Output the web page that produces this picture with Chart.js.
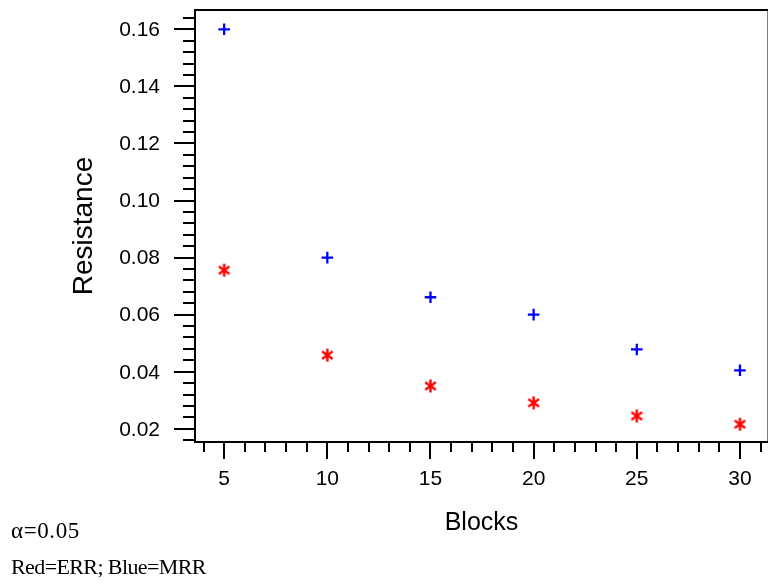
<!DOCTYPE html>
<html><head><meta charset="utf-8">
<script src="https://cdn.jsdelivr.net/npm/chart.js@4/dist/chart.umd.min.js"></script>
<style>
html,body{margin:0;padding:0;background:#fff;}
#wrap{position:relative;width:769px;height:586px;overflow:hidden;}
canvas{position:absolute;left:0;top:0;}
.note{position:absolute;left:11px;font-family:"Liberation Serif","Times New Roman",serif;font-size:22px;line-height:22px;color:#000;letter-spacing:-0.6px;white-space:nowrap;}
.alpha{font-size:23px;letter-spacing:0.6px;}
</style></head>
<body>
<div id="wrap"><canvas id="c" width="769" height="586"></canvas>
<div class="note alpha" style="top:520px">α=0.05</div>
<div class="note" style="top:556px">Red=ERR; Blue=MRR</div>
</div>
<script>
// ---- data ----
const blocks = [5, 10, 15, 20, 25, 30];
const errResistance = [0.0756, 0.0458, 0.0350, 0.0291, 0.0245, 0.0216];
const mrrResistance = [0.1600, 0.0800, 0.0661, 0.0600, 0.0478, 0.0405];
const xTickLabels = [5, 10, 15, 20, 25, 30];
const yTickLabels = [0.02, 0.04, 0.06, 0.08, 0.10, 0.12, 0.14, 0.16];

const X_MIN = 3.586, X_MAX = 31.36, Y_MIN = 0.01537, Y_MAX = 0.16677;
const FONT = '"Liberation Sans", Arial, sans-serif';

// asterisk marker (6 arms)
function makeAsterisk(color) {
  const c = document.createElement('canvas');
  c.width = 15; c.height = 15;
  const g = c.getContext('2d');
  g.strokeStyle = color; g.lineWidth = 2.4; g.lineCap = 'butt';
  const cx = 7.5, cy = 7.5, r = 6.5;
  [90, 35, -35].forEach(a => {
    const rad = a * Math.PI / 180;
    g.beginPath();
    g.moveTo(cx - Math.cos(rad) * r, cy - Math.sin(rad) * r);
    g.lineTo(cx + Math.cos(rad) * r, cy + Math.sin(rad) * r);
    g.stroke();
  });
  return c;
}

const axisPlugin = {
  id: 'axisFrame',
  afterDraw(chart) {
    const { ctx, chartArea: a, scales: { x, y } } = chart;
    ctx.save();
    ctx.strokeStyle = '#808080'; ctx.lineWidth = 1;
    ctx.beginPath(); ctx.moveTo(a.right - 0.5, a.top); ctx.lineTo(a.right - 0.5, a.bottom); ctx.stroke();
    ctx.strokeStyle = '#000'; ctx.lineWidth = 2;
    ctx.beginPath();
    ctx.moveTo(a.left - 1, a.top); ctx.lineTo(a.right, a.top);
    ctx.moveTo(a.left, a.top); ctx.lineTo(a.left, a.bottom + 1);
    ctx.moveTo(a.left - 1, a.bottom); ctx.lineTo(a.right, a.bottom);
    ctx.stroke();
    // y ticks
    ctx.beginPath();
    for (let i = 4; i <= 41; i++) {
      const v = i * 0.004;
      if (v < Y_MIN || v > Y_MAX) continue;
      const py = Math.round(y.getPixelForValue(v));
      const major = (i % 5 === 0);
      ctx.moveTo(a.left - (major ? 21 : 12), py); ctx.lineTo(a.left, py);
    }
    // x ticks
    for (let v = 4; v <= 31; v++) {
      const px = Math.round(x.getPixelForValue(v));
      const major = (v % 5 === 0);
      ctx.moveTo(px, a.bottom); ctx.lineTo(px, a.bottom + (major ? 17 : 10));
    }
    ctx.stroke();
    // tick labels
    ctx.fillStyle = '#000';
    ctx.font = '21px ' + FONT;
    ctx.textAlign = 'right'; ctx.textBaseline = 'middle';
    yTickLabels.forEach(v => {
      ctx.fillText(v.toFixed(2), a.left - 35, y.getPixelForValue(v) + 1);
    });
    ctx.textAlign = 'center';
    xTickLabels.forEach(v => {
      ctx.fillText(String(v), x.getPixelForValue(v), a.bottom + 37);
    });
    ctx.restore();
  }
};

new Chart(document.getElementById('c'), {
  type: 'scatter',
  data: {
    datasets: [
      {
        label: 'ERR',
        data: blocks.map((b, i) => ({ x: b, y: errResistance[i] })),
        pointStyle: makeAsterisk('#ff0000'),
        pointRadius: 7,
        borderColor: '#ff0000', backgroundColor: '#ff0000'
      },
      {
        label: 'MRR',
        data: blocks.map((b, i) => ({ x: b, y: mrrResistance[i] })),
        pointStyle: 'cross',
        pointRadius: 5.8,
        borderWidth: 2.3,
        borderColor: '#0000ff', backgroundColor: '#0000ff'
      }
    ]
  },
  options: {
    responsive: false, animation: false, devicePixelRatio: 1,
    layout: { autoPadding: false, padding: { left: 0, right: 1, top: 10, bottom: 0 } },
    plugins: { legend: { display: false }, tooltip: { enabled: false } },
    scales: {
      x: {
        type: 'linear', min: X_MIN, max: X_MAX,
        grid: { display: false }, border: { display: false },
        afterBuildTicks: s => { s.ticks = xTickLabels.map(v => ({ value: v })); },
        afterFit: s => { s.height = 144; },
        ticks: { display: false },
        title: { display: true, text: 'Blocks', color: '#000',
                 font: { family: FONT, size: 25, lineHeight: 1 }, padding: { top: 0, bottom: 50 } }
      },
      y: {
        type: 'linear', min: Y_MIN, max: Y_MAX,
        grid: { display: false }, border: { display: false },
        afterBuildTicks: s => { s.ticks = yTickLabels.map(v => ({ value: v })); },
        afterFit: s => { s.width = 195; },
        ticks: { display: false },
        title: { display: true, text: 'Resistance', color: '#000',
                 font: { family: FONT, size: 28, lineHeight: 1 }, padding: { top: 70, bottom: 0 } }
      }
    }
  },
  plugins: [axisPlugin]
});
</script>
</body></html>
